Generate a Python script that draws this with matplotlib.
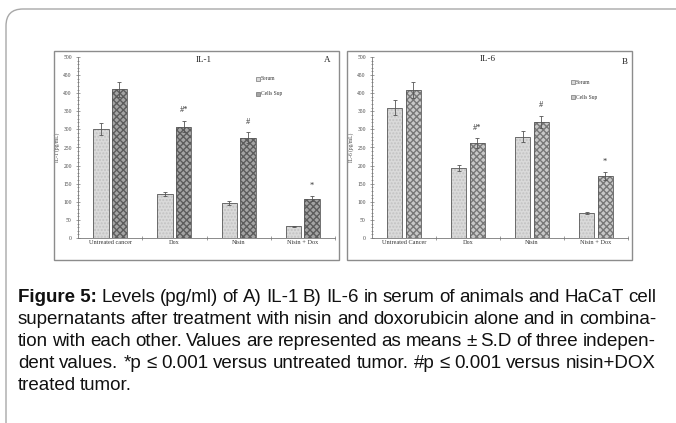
import matplotlib
matplotlib.use('Agg')
import matplotlib.pyplot as plt
import numpy as np
from matplotlib.patches import Rectangle, FancyBboxPatch
from matplotlib.ticker import MultipleLocator

# Datos
categorias_a = ['Untreated cancer', 'Dox', 'Nisin', 'Nisin + Dox']
categorias_b = ['Untreated Cancer', 'Dox', 'Nisin', 'Nisin + Dox']
series = ['Serum', 'Cells Sup']

il1_serum = [301, 121, 97, 32]
il1_serum_sd = [16, 5, 5, 2]
il1_cells = [411, 308, 277, 109]
il1_cells_sd = [21, 16, 15, 6]
il1_marcas = ['', '#*', '#', '*']

il6_serum = [360, 193, 280, 69]
il6_serum_sd = [20, 9, 15, 2]
il6_cells = [409, 262, 321, 171]
il6_cells_sd = [22, 13, 16, 10]
il6_marcas = ['', '#*', '#', '*']

leyenda = [
    'Levels (pg/ml) of A) IL-1 B) IL-6 in serum of animals and HaCaT cell',
    'supernatants after treatment with nisin and doxorubicin alone and in combina-',
    'tion with each other. Values are represented as means ± S.D of three indepen-',
    'dent values. *p ≤ 0.001 versus untreated tumor.  #p ≤ 0.001 versus nisin+DOX',
    'treated tumor.',
]

W, H = 676, 423
SERIF = ['Liberation Serif', 'DejaVu Serif']
SANS = ['Liberation Sans', 'DejaVu Sans']


def fx(px):
    return px / W


def fy(py):
    return 1 - py / H


def panel(fig, caja, ejes, categorias, serum, serum_sd, cells, cells_sd,
          marcas, titulo, letra, ylabel, leyenda_xy, titulo_xy, letra_xy, gris_cells):
    # marco del panel
    x0, y0, x1, y1 = caja
    fig.add_artist(Rectangle((fx(x0), fy(y1)), fx(x1) - fx(x0), fy(y0) - fy(y1),
                             transform=fig.transFigure, fill=False,
                             edgecolor='#8c8c8c', linewidth=1.0))
    l, t, r, b = ejes
    ax = fig.add_axes([fx(l), fy(b), fx(r) - fx(l), fy(t) - fy(b)])
    x = np.arange(len(categorias)) + 0.5
    off, ancho = 0.144, 0.24
    fc_cells, hc_cells = gris_cells
    # relleno con textura
    ax.bar(x - off, serum, ancho, color='#dadada', edgecolor='#c2c2c2',
           hatch='.....', linewidth=0, zorder=2)
    ax.bar(x + off, cells, ancho, color=fc_cells, edgecolor=hc_cells,
           hatch='xxxxx', linewidth=0, zorder=2)
    # contorno
    ax.bar(x - off, serum, ancho, fill=False, edgecolor='#5a5a5a',
           linewidth=0.6, zorder=3)
    ax.bar(x + off, cells, ancho, fill=False, edgecolor='#5a5a5a',
           linewidth=0.6, zorder=3)
    ax.errorbar(x - off, serum, yerr=serum_sd, fmt='none', ecolor='#555555',
                elinewidth=0.6, capsize=1.2, capthick=0.6, zorder=4)
    ax.errorbar(x + off, cells, yerr=cells_sd, fmt='none', ecolor='#555555',
                elinewidth=0.6, capsize=1.2, capthick=0.6, zorder=4)
    for xi, v, sd, m in zip(x, cells, cells_sd, marcas):
        if m:
            ax.text(xi + off, v + sd + 18, m, ha='center', va='bottom',
                    fontsize=6, family=SERIF, color='#333333')

    ax.set_xlim(0, len(categorias))
    ax.set_ylim(0, 500)
    ax.yaxis.set_major_locator(MultipleLocator(50))
    ax.yaxis.set_minor_locator(MultipleLocator(10))
    ax.set_xticks(np.arange(1, len(categorias) + 1))
    ax.set_xticklabels([])
    ax.tick_params(axis='both', which='both', direction='inout', colors='#777777',
                   width=0.5)
    ax.tick_params(axis='y', which='major', length=3, labelsize=4, pad=3,
                   labelcolor='#444444')
    ax.tick_params(axis='y', which='minor', length=1.5)
    ax.tick_params(axis='x', which='major', length=3)
    for lab in ax.get_yticklabels():
        lab.set_family(SERIF)
    for xi, c in zip(x, categorias):
        ax.text(xi, -6, c, ha='center', va='top', fontsize=4.5, family=SERIF,
                color='#333333')
    for s in ['top', 'right']:
        ax.spines[s].set_visible(False)
    for s in ['left', 'bottom']:
        ax.spines[s].set_color('#777777')
        ax.spines[s].set_linewidth(0.6)
    ax.set_ylabel(ylabel, fontsize=4, family=SERIF, color='#444444', labelpad=2.5)
    ax.patch.set_alpha(0)

    fig.text(fx(titulo_xy[0]), fy(titulo_xy[1]), titulo, ha='center', va='center',
             fontsize=6.5, family=SERIF, color='#222222')
    fig.text(fx(letra_xy[0]), fy(letra_xy[1]), letra, ha='center', va='center',
             fontsize=6.5, family=SERIF, color='#222222')
    lx, ly = leyenda_xy
    for i, (s, fc) in enumerate(zip(series, ['#dadada', fc_cells])):
        yy = ly + i * 15
        fig.add_artist(Rectangle((fx(lx - 2), fy(yy + 2)), fx(4), 4 / H,
                                 transform=fig.transFigure, facecolor=fc,
                                 edgecolor='#5a5a5a', linewidth=0.4))
        fig.text(fx(lx + 3), fy(yy), s, ha='left', va='center', fontsize=4,
                 family=SERIF, color='#333333')
    return ax


fig = plt.figure(figsize=(W / 100, H / 100), dpi=100)

# marco exterior de la pagina
fig.add_artist(FancyBboxPatch((fx(6), fy(460)), fx(720), 451 / H,
                              boxstyle='round,pad=0,rounding_size=0.025',
                              transform=fig.transFigure, fill=False,
                              edgecolor='#a8a8a8', linewidth=1.0,
                              mutation_aspect=W / H))

panel(fig, (54, 51, 339, 260), (78, 57, 335, 238), categorias_a,
      il1_serum, il1_serum_sd, il1_cells, il1_cells_sd, il1_marcas,
      'IL-1', 'A', 'IL-1 (pg/mL)', (258, 79), (204, 60), (327, 60),
      ('#a4a4a4', '#5c5c5c'))
panel(fig, (347, 51, 632, 260), (372, 57, 628, 238), categorias_b,
      il6_serum, il6_serum_sd, il6_cells, il6_cells_sd, il6_marcas,
      'IL-6', 'B', 'IL-6 (pg/mL)', (573, 82), (488, 59), (625, 62),
      ('#c8c8c8', '#777777'))

# leyenda de la figura, justificada
x_ini, x_fin = 18, 656
y_lin = [297, 319, 341, 363, 385]
renderer = fig.canvas.get_renderer()


def palabras(k):
    ws = [(w, 'normal') for w in leyenda[k].split(' ') if w]
    if k == 0:
        ws = [('Figure 5:', 'bold')] + ws
    return ws


def medir(tam):
    # ancho natural de cada palabra, por linea
    res = []
    for k in range(len(leyenda)):
        tt = [fig.text(0, 0, w, fontsize=tam, family=SANS, weight=p)
              for w, p in palabras(k)]
        a = [t.get_window_extent(renderer).width for t in tt]
        for t in tt:
            t.remove()
        res.append(a)
    return res


tam = 10.0
while tam < 15:
    ok = True
    for k, a in enumerate(medir(tam + 0.25)[:-1]):
        if sum(a) + 3.5 * (len(a) - 1) > x_fin - x_ini:
            ok = False
    if not ok:
        break
    tam += 0.25

for k, yl in enumerate(y_lin):
    linea = palabras(k)
    textos = [fig.text(0, fy(yl), w, fontsize=tam, family=SANS, weight=p,
                       va='center', ha='left', color='#111111') for w, p in linea]
    anchos = [t.get_window_extent(renderer).width for t in textos]
    if k < len(leyenda) - 1:
        hueco = (x_fin - x_ini - sum(anchos)) / (len(textos) - 1)
    else:
        hueco = tam * 0.3
    pos = x_ini
    for t, a in zip(textos, anchos):
        t.set_x(fx(pos))
        pos += a + hueco

fig.savefig('out.png', dpi=100)
